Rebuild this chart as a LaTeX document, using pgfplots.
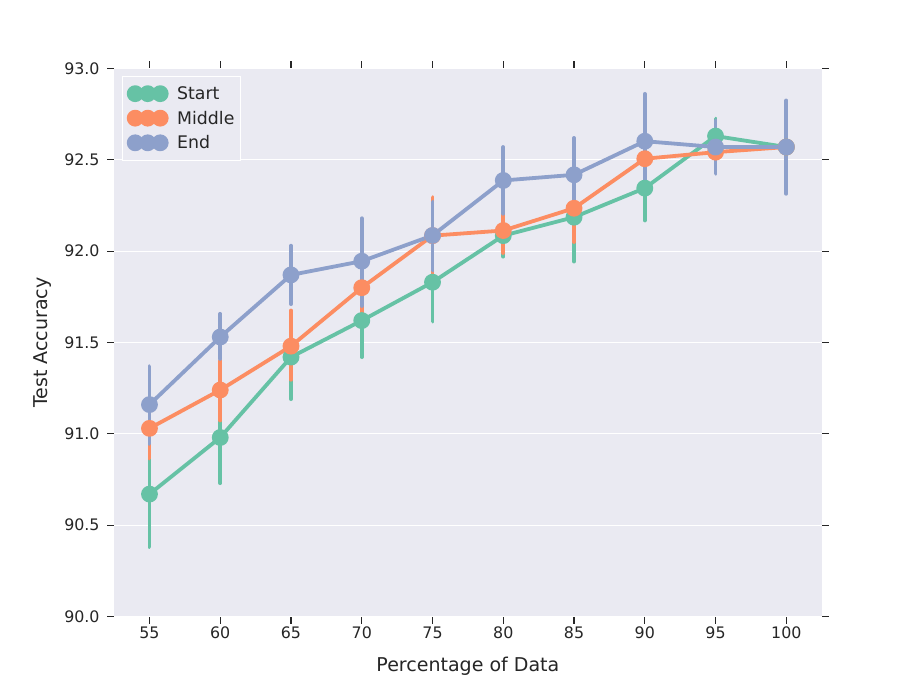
\documentclass[border=0pt]{standalone}
\usepackage{fontspec}
\setmainfont{DejaVu Sans}
\usepackage{pgfplots}
\pgfplotsset{compat=1.18}
\usepackage{pgfplotstable}
\definecolor{cstart}{HTML}{66C2A5}
\definecolor{cmid}{HTML}{FC8D62}
\definecolor{cend}{HTML}{8DA0CB}
\definecolor{bgc}{HTML}{EAEAF2}
\definecolor{txt}{HTML}{262626}

\pgfplotstableread{
x y ep em
0 90.67 0.28 0.29
1 90.98 0.22 0.25
2 91.42 0.20 0.23
3 91.62 0.18 0.20
4 91.83 0.19 0.215
5 92.085 0.105 0.115
6 92.186 0.214 0.243
7 92.345 0.155 0.177
8 92.63 0.095 0.11
9 92.57 0.25 0.25
}\startdata

\pgfplotstableread{
x y ep em
0 91.03 0.17 0.165
1 91.24 0.16 0.167
2 91.48 0.195 0.184
3 91.80 0.17 0.17
4 92.085 0.21 0.205
5 92.113 0.087 0.123
6 92.235 0.165 0.185
7 92.506 0.124 0.126
8 92.542 0.108 0.092
9 92.57 0.25 0.25
}\middata

\pgfplotstableread{
x y ep em
0 91.16 0.21 0.215
1 91.53 0.127 0.12
2 91.87 0.16 0.16
3 91.945 0.235 0.245
4 92.086 0.184 0.192
5 92.387 0.183 0.182
6 92.418 0.202 0.201
7 92.602 0.259 0.257
8 92.57 0.145 0.146
9 92.57 0.255 0.256
}\enddata

\begin{document}
\begin{tikzpicture}
\useasboundingbox (0,0) rectangle (913bp,685bp);
\begin{axis}[
  at={(114.1bp,68.5bp)}, anchor=south west,
  scale only axis, width=707.6bp, height=548bp,
  xmin=-0.5, xmax=9.5, ymin=90, ymax=93,
  xtick={0,...,9},
  xticklabels={55,60,65,70,75,80,85,90,95,100},
  ytick={90,90.5,...,93},
  yticklabel style={xshift=-4bp, /pgf/number format/.cd, fixed, fixed zerofill, precision=1},
  /pgf/number format/assume math mode=true,
  axis background/.style={fill=bgc},
  axis line style={draw=none},
  ymajorgrids, xmajorgrids=false,
  grid style={white, line width=1.2bp},
  tick align=outside,
  major tick length=7bp,
  tick style={txt, line width=1.2bp},
  tick label style={font=\fontsize{15.9}{19}\selectfont, text=txt},
  every axis x label/.style={at={([yshift=-55.2bp]axis description cs:0.5,0)}, anchor=base, font=\fontsize{19.1}{23}\selectfont, text=txt},
  every axis y label/.style={at={([xshift=-66.8bp]axis description cs:0,0.5)}, anchor=base, rotate=90, font=\fontsize{19.1}{23}\selectfont, text=txt},
  xlabel={Percentage of Data},
  ylabel={Test Accuracy},
  legend cell align=left,
  legend style={at={(0,1)}, anchor=north west, xshift=8.2bp, yshift=-7.5bp,
    fill=bgc, draw=white, line width=1bp, font=\fontsize{17.4}{21}\selectfont, text=txt,
    row sep=6bp, inner ysep=8bp, inner xsep=4bp},
  legend image code/.code={
    \fill (0bp,0bp) circle (6.5bp);
    \fill (12.5bp,0bp) circle (6.5bp);
    \fill (25bp,0bp) circle (6.5bp);
    \path[draw=none, fill=none] (-6.5bp,-0.1bp) rectangle (40bp,0.1bp);
  },
]
\addplot[cstart, line width=3.8bp, line join=round, mark=*, mark size=6.5bp,
  mark options={draw=none, fill=cstart},
  error bars/.cd, y dir=both, y explicit, error mark=none,
  error bar style={line width=3.8bp, cstart, line cap=round}]
  table[x=x, y=y, y error plus=ep, y error minus=em] {\startdata};
\addlegendentry{Start}
\addplot[cmid, line width=3.8bp, line join=round, mark=*, mark size=6.5bp,
  mark options={draw=none, fill=cmid},
  error bars/.cd, y dir=both, y explicit, error mark=none,
  error bar style={line width=3.8bp, cmid, line cap=round}]
  table[x=x, y=y, y error plus=ep, y error minus=em] {\middata};
\addlegendentry{Middle}
\addplot[cend, line width=3.8bp, line join=round, mark=*, mark size=6.5bp,
  mark options={draw=none, fill=cend},
  error bars/.cd, y dir=both, y explicit, error mark=none,
  error bar style={line width=3.8bp, cend, line cap=round}]
  table[x=x, y=y, y error plus=ep, y error minus=em] {\enddata};
\addlegendentry{End}
\end{axis}
\end{tikzpicture}
\end{document}
